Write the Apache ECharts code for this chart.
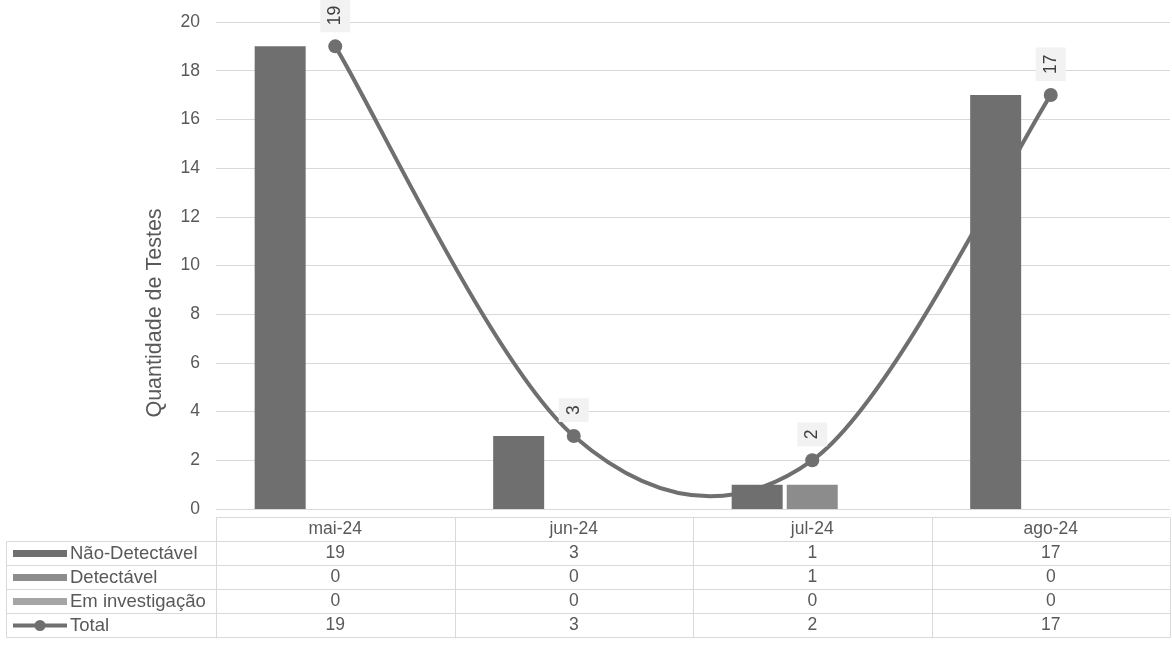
<!DOCTYPE html>
<html>
<head>
<meta charset="utf-8">
<script src="https://cdn.jsdelivr.net/npm/echarts@6/dist/echarts.min.js"></script>
<style>
html,body{margin:0;padding:0;background:#fff;}
#c{width:1172px;height:655px;}
</style>
</head>
<body>
<div id="c"></div>
<script>
const categories = ['mai-24', 'jun-24', 'jul-24', 'ago-24'];
const naoDetectavel = [19, 3, 1, 17];
const detectavel = [0, 0, 1, 0];
const emInvestigacao = [0, 0, 0, 0];
const total = [19, 3, 2, 17];
const seriesNames = ['Não-Detectável', 'Detectável', 'Em investigação', 'Total'];
const yAxisTitle = 'Quantidade de Testes';

const FONT = '"Liberation Sans", Arial, sans-serif';
const FS = 17.5;
const TXT = '#595959';
const GRIDC = '#d9d9d9';
const colors = ['#6f6f6f', '#8c8c8c', '#a5a5a5', '#6f6f6f'];

const chart = echarts.init(document.getElementById('c'), null, {renderer: 'canvas'});

function smoothPath(params, api) {
  if (params.dataIndex !== 0) return null;
  const pts = total.map((v, i) => api.coord([i, v]));
  const n = pts.length;
  const children = [];
  for (let i = 0; i < n - 1; i++) {
    const p0 = pts[Math.max(i - 1, 0)], p1 = pts[i], p2 = pts[i + 1], p3 = pts[Math.min(i + 2, n - 1)];
    children.push({
      type: 'bezierCurve',
      shape: {
        x1: p1[0], y1: p1[1], x2: p2[0], y2: p2[1],
        cpx1: p1[0] + (p2[0] - p0[0]) / 6, cpy1: p1[1] + (p2[1] - p0[1]) / 6,
        cpx2: p2[0] - (p3[0] - p1[0]) / 6, cpy2: p2[1] - (p3[1] - p1[1]) / 6
      },
      style: {stroke: colors[3], lineWidth: 4, fill: null, lineCap: 'round'}
    });
  }
  return {type: 'group', children};
}

const option = {
  animation: false,
  textStyle: {fontFamily: FONT},
  grid: {left: 216, right: 2, top: 22, bottom: 146, containLabel: false},
  xAxis: {
    type: 'category',
    data: categories,
    axisLine: {show: false},
    axisTick: {show: false},
    axisLabel: {show: false},
    splitLine: {show: false}
  },
  yAxis: {
    type: 'value',
    min: 0, max: 20, interval: 2,
    axisLine: {show: false},
    axisTick: {show: false},
    axisLabel: {color: TXT, fontSize: FS, fontFamily: FONT, margin: 16},
    splitLine: {lineStyle: {color: GRIDC, width: 1}}
  },
  series: [
    {name: seriesNames[0], type: 'bar', data: naoDetectavel, barWidth: 51, barGap: '8%', itemStyle: {color: colors[0]}},
    {name: seriesNames[1], type: 'bar', data: detectavel, barWidth: 51, barGap: '8%', itemStyle: {color: colors[1]}},
    {name: seriesNames[2], type: 'bar', data: emInvestigacao, barWidth: 51, barGap: '8%', itemStyle: {color: colors[2]}},
    {
      name: seriesNames[3] + ' curve', type: 'custom',
      data: total.map((v, i) => [i, v]),
      encode: {x: 0, y: 1},
      renderItem: smoothPath,
      z: 3
    },
    {
      name: seriesNames[3], type: 'line', data: total,
      symbol: 'circle', symbolSize: 14,
      itemStyle: {color: colors[3]},
      lineStyle: {width: 0, opacity: 0},
      z: 4,
      label: {
        show: true, position: 'top', distance: 7, rotate: 90,
        align: 'left', verticalAlign: 'middle',
        color: '#404040', fontSize: FS, fontFamily: FONT,
        backgroundColor: '#f2f2f2', padding: [6, 7]
      }
    }
  ]
};
chart.setOption(option);

// Data table below the plot, positioned from the axis scales
(function () {
  const c0 = chart.convertToPixel({xAxisIndex: 0}, 0);
  const c1 = chart.convertToPixel({xAxisIndex: 0}, 1);
  const bw = c1 - c0;
  const gl = c0 - bw / 2;
  const gr = gl + bw * categories.length;
  const y0 = chart.convertToPixel({yAxisIndex: 0}, 0);
  const headTop = Math.round(y0) + 8.5;
  const headH = 24;
  const rowH = 24;
  const tableLeft = 6.5;
  const bottom = headTop + headH + rowH * 4;
  const els = [];
  const line = (x1, y1, x2, y2) => els.push({type: 'line', shape: {x1, y1, x2, y2}, style: {stroke: GRIDC, lineWidth: 1}, silent: true});
  line(gl, headTop, gr, headTop);
  for (let i = 0; i <= categories.length; i++) {
    const x = Math.round(gl + bw * i) + 0.5;
    line(x, headTop, x, bottom);
  }
  for (let r = 0; r <= 4; r++) {
    const y = headTop + headH + rowH * r;
    line(tableLeft, y, gr, y);
  }
  line(tableLeft, headTop + headH, tableLeft, bottom);
  categories.forEach((cat, i) => {
    els.push({type: 'text', x: gl + bw * (i + 0.5), y: headTop + headH / 2,
      style: {text: cat, fill: TXT, font: FS + 'px ' + FONT, align: 'center', verticalAlign: 'middle'}});
  });
  const rows = [naoDetectavel, detectavel, emInvestigacao, total];
  rows.forEach((arr, r) => {
    const yc = headTop + headH + rowH * r + rowH / 2;
    if (r < 3) {
      els.push({type: 'rect', shape: {x: 13, y: yc - 3.5, width: 54, height: 7}, style: {fill: colors[r]}});
    } else {
      els.push({type: 'line', shape: {x1: 13, y1: yc, x2: 67, y2: yc}, style: {stroke: colors[3], lineWidth: 4}});
      els.push({type: 'circle', shape: {cx: 40, cy: yc, r: 5.5}, style: {fill: colors[3]}});
    }
    els.push({type: 'text', x: 70, y: yc, style: {text: seriesNames[r], fill: TXT, font: '18.5px ' + FONT, align: 'left', verticalAlign: 'middle'}});
    arr.forEach((v, i) => {
      els.push({type: 'text', x: gl + bw * (i + 0.5), y: yc,
        style: {text: String(v), fill: TXT, font: FS + 'px ' + FONT, align: 'center', verticalAlign: 'middle'}});
    });
  });
  els.push({type: 'text', x: 155, y: 313, rotation: Math.PI / 2,
    style: {text: yAxisTitle, fill: TXT, font: '21.5px ' + FONT, align: 'center', verticalAlign: 'middle'}});
  chart.setOption({graphic: {elements: els}});
})();
</script>
</body>
</html>
